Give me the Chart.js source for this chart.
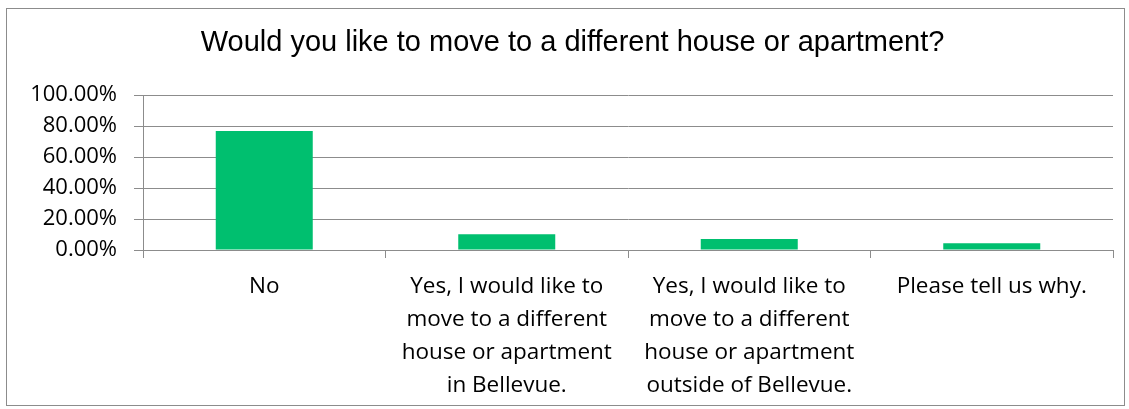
<!DOCTYPE html>
<html>
<head>
<meta charset="utf-8">
<script src="https://cdn.jsdelivr.net/npm/chart.js@4"></script>
<style>
  html, body { margin: 0; padding: 0; background: #fff; }
  #wrap { width: 1129px; height: 409px; position: relative; }
</style>
</head>
<body>
<div id="wrap"><canvas id="moveChart" width="1129" height="409"></canvas></div>
<script>
// 質問タイトル
const chartTitle = 'Would you like to move to a different house or apartment?';

// カテゴリ(複数行ラベル)
const categories = [
    ['No'],
    ['Yes, I would like to', 'move to a different', 'house or apartment', 'in Bellevue.'],
    ['Yes, I would like to', 'move to a different', 'house or apartment', 'outside of Bellevue.'],
    ['Please tell us why.']
];

// 回答割合 (0〜1)
const shares = [0.768, 0.101, 0.071, 0.043];

// Y軸目盛り
const yTicks = [0, 0.2, 0.4, 0.6, 0.8, 1.0];

const barColor = '#00BF6F';
const gridColor = '#8C8C8C';

// タイトル用フォント: Narrow があれば使う
const probe = document.createElement('canvas').getContext('2d');
probe.font = '100px "Liberation Sans Narrow", monospace';
const narrowW = probe.measureText(chartTitle).width;
probe.font = '100px monospace';
const monoW = probe.measureText(chartTitle).width;
const hasNarrow = Math.abs(narrowW - monoW) > 1;
const titleFamily = hasNarrow ? 'Liberation Sans Narrow' : 'Liberation Sans';
const titleSize = hasNarrow ? 35 : 29;

// 外枠
const frameBorder = {
    id: 'frameBorder',
    afterDraw(chart) {
        const ctx = chart.ctx;
        ctx.save();
        ctx.strokeStyle = '#8C8C8C';
        ctx.lineWidth = 1;
        ctx.strokeRect(6.5, 8.5, 1118, 397);
        ctx.restore();
    }
};

const chartContext = document.getElementById('moveChart');

new Chart(chartContext, {
    type: 'bar',
    data: {
        labels: categories,
        datasets: [{
            data: shares,
            backgroundColor: barColor,
            categoryPercentage: 1.0,
            barPercentage: 0.4
        }]
    },
    options: {
        responsive: false,
        animation: false,
        layout: { padding: { left: 32, right: 16, top: 0, bottom: 0 } },
        plugins: {
            legend: { display: false },
            tooltip: { enabled: false },
            title: {
                display: true,
                text: chartTitle,
                color: '#000',
                font: { family: titleFamily, size: titleSize, weight: 'normal', lineHeight: 1.2 },
                padding: { top: 43 - titleSize * 0.6, bottom: 95 - 43 - titleSize * 0.6 }
            }
        },
        scales: {
            x: {
                grid: {
                    display: true,
                    drawOnChartArea: false,
                    drawTicks: true,
                    tickLength: 8,
                    color: gridColor,
                    offset: true
                },
                border: { display: true, color: gridColor },
                ticks: {
                    color: '#000',
                    padding: 12,
                    maxRotation: 0,
                    autoSkip: false,
                    font: { family: 'Open Sans', size: 22.5, lineHeight: 1.47 }
                },
                afterFit(scale) { scale.height = 159; }
            },
            y: {
                min: 0,
                max: 1,
                afterBuildTicks(scale) {
                    scale.ticks = yTicks.map(v => ({ value: v }));
                },
                grid: {
                    color: gridColor,
                    tickLength: 9,
                    drawTicks: true
                },
                border: { display: true, color: gridColor },
                ticks: {
                    color: '#000',
                    padding: 17,
                    font: { family: 'Open Sans', size: 22 },
                    callback: v => (v * 100).toFixed(2) + '%'
                },
                afterFit(scale) { scale.width = 111; }
            }
        }
    },
    plugins: [frameBorder]
});
</script>
</body>
</html>
